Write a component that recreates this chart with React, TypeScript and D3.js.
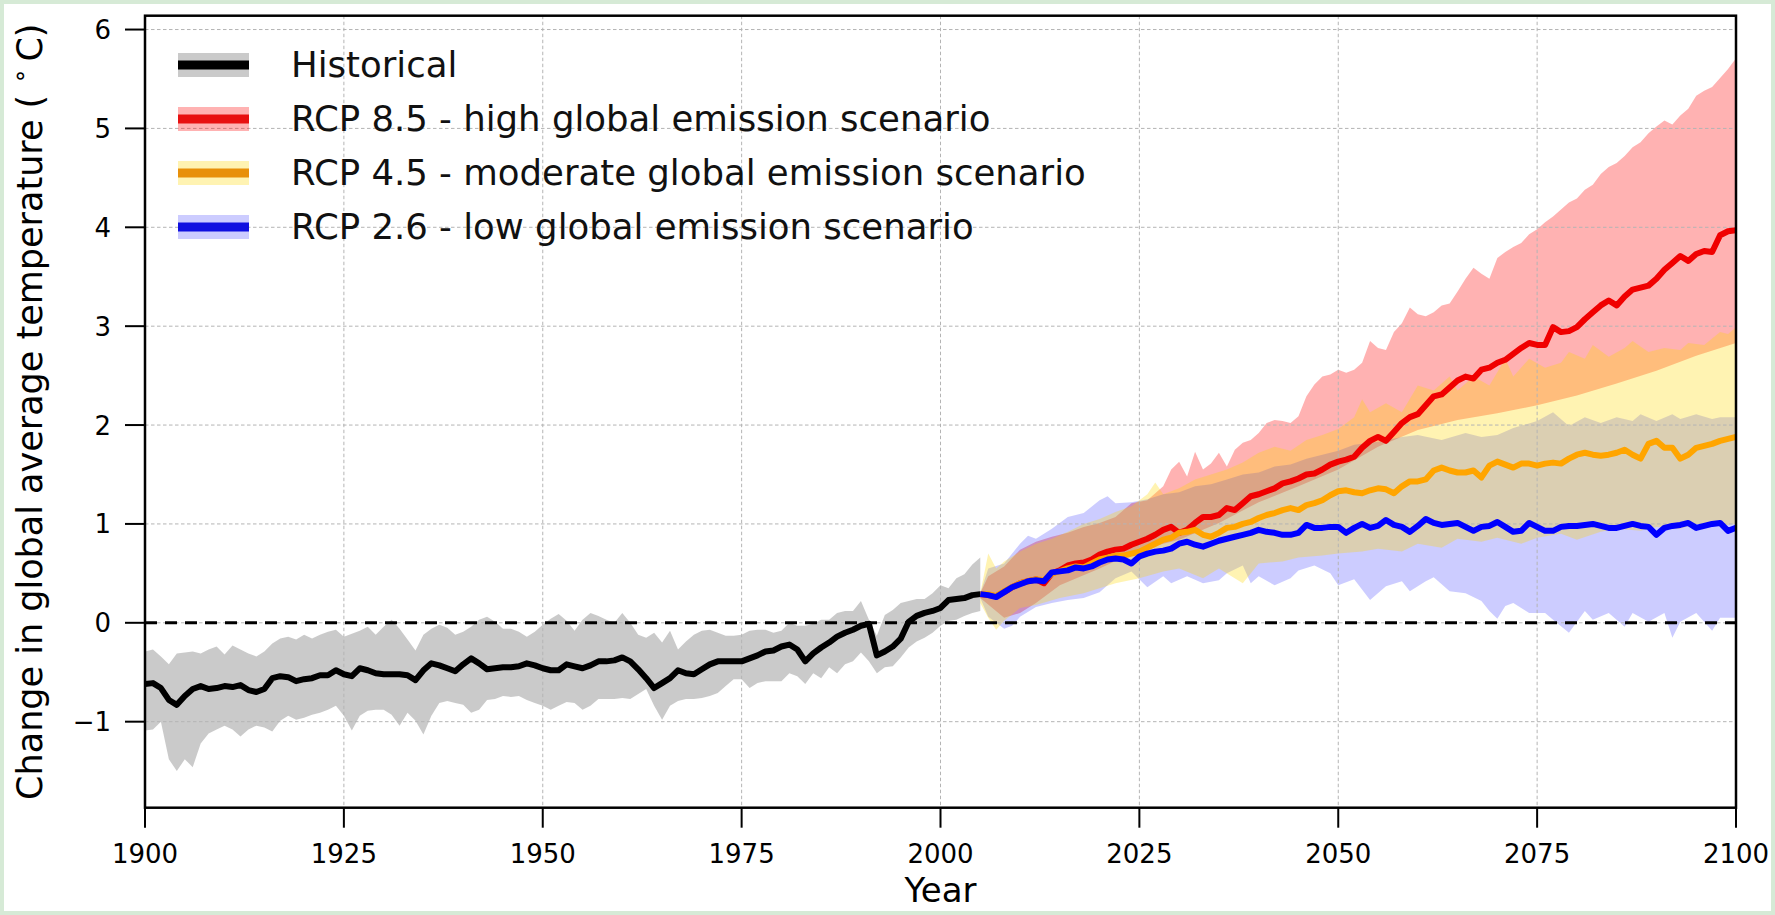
import React from 'react';
import * as d3 from 'd3';

const W = 1775;
const H = 915;

// historical ensemble, one value per year from 1900
const histStart = 1900;
const histMean = [
  -0.62, -0.61, -0.66, -0.78, -0.83, -0.74, -0.67, -0.64, -0.67, -0.66,
  -0.64, -0.65, -0.63, -0.68, -0.70, -0.67, -0.56, -0.54, -0.55, -0.59,
  -0.57, -0.56, -0.53, -0.53, -0.48, -0.52, -0.54, -0.46, -0.48, -0.51,
  -0.52, -0.52, -0.52, -0.53, -0.58, -0.48, -0.41, -0.43, -0.46, -0.49,
  -0.42, -0.36, -0.41, -0.47, -0.46, -0.45, -0.45, -0.44, -0.41, -0.43,
  -0.46, -0.48, -0.48, -0.42, -0.44, -0.46, -0.43, -0.39, -0.39, -0.38,
  -0.35, -0.39, -0.47, -0.56, -0.66, -0.61, -0.56, -0.48, -0.51, -0.52,
  -0.47, -0.42, -0.39, -0.39, -0.39, -0.39, -0.36, -0.33, -0.29, -0.28,
  -0.24, -0.22, -0.27, -0.39, -0.31, -0.25, -0.2, -0.14, -0.1, -0.07,
  -0.03, -0.01, -0.33, -0.29, -0.24, -0.16, 0.01, 0.07, 0.1, 0.12,
  0.15, 0.23, 0.24, 0.25, 0.28, 0.29,
];
const histHi = [
  -0.29, -0.27, -0.34, -0.42, -0.31, -0.3, -0.29, -0.31, -0.27, -0.24,
  -0.32, -0.23, -0.27, -0.31, -0.34, -0.29, -0.21, -0.16, -0.14, -0.17,
  -0.12, -0.16, -0.12, -0.09, -0.07, -0.14, -0.11, -0.08, -0.04, -0.12,
  -0.04, 0.03, -0.06, -0.17, -0.28, -0.12, -0.06, -0.02, -0.05, -0.12,
  -0.09, -0.04, 0.03, 0.06, 0.01, -0.06, -0.06, -0.09, -0.14, -0.09,
  -0.02, 0.04, 0.09, 0.02, -0.08, 0.03, 0.1, 0.07, 0.03, 0.0,
  0.1, 0.0, -0.12, -0.15, -0.1, -0.2, -0.08, -0.27, -0.19, -0.12,
  -0.08, -0.07, -0.1, -0.13, -0.13, -0.12, -0.08, -0.07, -0.07, -0.1,
  -0.08, 0.0, -0.03, -0.03, -0.01, 0.03, 0.03, 0.1, 0.12, 0.12,
  0.22, 0.03, -0.13, 0.08, 0.13, 0.2, 0.22, 0.24, 0.24, 0.3,
  0.38, 0.35, 0.45, 0.49, 0.59, 0.66,
];
const histLo = [
  -1.09, -1.08, -1.0, -1.38, -1.5, -1.38, -1.46, -1.22, -1.12, -1.08,
  -1.04, -1.08, -1.15, -1.08, -1.04, -1.06, -1.1, -0.99, -0.94, -0.98,
  -0.96, -0.93, -0.91, -0.88, -0.84, -0.94, -1.09, -0.94, -0.89, -0.88,
  -0.88, -0.93, -1.04, -0.91, -0.99, -1.13, -0.94, -0.81, -0.79, -0.81,
  -0.83, -0.91, -0.88, -0.78, -0.77, -0.74, -0.75, -0.74, -0.78, -0.81,
  -0.84, -0.88, -0.84, -0.8, -0.81, -0.88, -0.84, -0.77, -0.77, -0.77,
  -0.76, -0.77, -0.72, -0.67, -0.84, -0.98, -0.84, -0.79, -0.77, -0.77,
  -0.76, -0.74, -0.71, -0.64, -0.57, -0.57, -0.66, -0.61, -0.59, -0.59,
  -0.59, -0.51, -0.54, -0.62, -0.51, -0.56, -0.45, -0.51, -0.42, -0.39,
  -0.3, -0.39, -0.51, -0.45, -0.44, -0.35, -0.25, -0.19, -0.15, -0.1,
  -0.03, 0.02, 0.03, 0.07, 0.1, 0.12,
];

// scenario means, one value per year from 2005
const projStart = 2005;
const rcp85Mean = [
  0.29, 0.28, 0.27, 0.31, 0.36, 0.4, 0.42, 0.44, 0.4, 0.5,
  0.53, 0.58, 0.6, 0.61, 0.64, 0.69, 0.72, 0.74, 0.75, 0.79,
  0.82, 0.85, 0.89, 0.94, 0.97, 0.91, 0.94, 1.01, 1.07, 1.07,
  1.09, 1.16, 1.14, 1.21, 1.28, 1.3, 1.33, 1.36, 1.41, 1.43,
  1.46, 1.5, 1.51, 1.55, 1.6, 1.63, 1.65, 1.68, 1.77, 1.84,
  1.88, 1.84, 1.93, 2.02, 2.08, 2.11, 2.2, 2.29, 2.31, 2.38,
  2.45, 2.49, 2.47, 2.56, 2.58, 2.63, 2.66, 2.72, 2.78, 2.83,
  2.81, 2.81, 2.99, 2.94, 2.95, 2.99, 3.07, 3.14, 3.21, 3.26,
  3.21, 3.3, 3.37, 3.39, 3.41, 3.48, 3.57, 3.64, 3.71, 3.66,
  3.73, 3.76, 3.75, 3.92, 3.96, 3.97,
];
const rcp45Mean = [
  0.29, 0.29, 0.27, 0.32, 0.36, 0.4, 0.42, 0.44, 0.43, 0.5,
  0.52, 0.55, 0.57, 0.56, 0.6, 0.64, 0.66, 0.68, 0.68, 0.7,
  0.72, 0.76, 0.8, 0.84, 0.86, 0.91, 0.92, 0.94, 0.89, 0.87,
  0.91, 0.96, 0.97, 1.0, 1.02, 1.06, 1.09, 1.11, 1.14, 1.16,
  1.14, 1.19, 1.21, 1.24, 1.29, 1.33, 1.34, 1.32, 1.31, 1.34,
  1.36, 1.35, 1.31, 1.38, 1.43, 1.43, 1.45, 1.54, 1.57, 1.54,
  1.52, 1.52, 1.54, 1.47, 1.59, 1.63, 1.6, 1.57, 1.61, 1.61,
  1.59, 1.61, 1.62, 1.61, 1.66, 1.7, 1.72, 1.7, 1.69, 1.7,
  1.72, 1.75, 1.7, 1.66, 1.81, 1.84, 1.77, 1.77, 1.66, 1.7,
  1.77, 1.79, 1.81, 1.84, 1.86, 1.88,
];
const rcp26Mean = [
  0.29, 0.28, 0.26, 0.31, 0.36, 0.39, 0.42, 0.43, 0.42, 0.51,
  0.52, 0.53, 0.56, 0.55, 0.57, 0.61, 0.64, 0.65, 0.64, 0.6,
  0.67, 0.7, 0.72, 0.73, 0.75, 0.8, 0.82, 0.79, 0.77, 0.8,
  0.83, 0.85, 0.87, 0.89, 0.91, 0.94, 0.92, 0.91, 0.89, 0.89,
  0.91, 0.99, 0.96, 0.96, 0.97, 0.97, 0.91, 0.96, 1.0, 0.96,
  0.98, 1.04, 0.99, 0.97, 0.92, 0.98, 1.05, 1.01, 0.99, 1.0,
  1.01, 0.97, 0.93, 0.97, 0.98, 1.02, 0.97, 0.92, 0.93, 1.01,
  0.97, 0.93, 0.93, 0.97, 0.98, 0.98, 0.99, 1.0, 0.98, 0.96,
  0.96, 0.98, 1.0, 0.98, 0.97, 0.89, 0.96, 0.98, 0.99, 1.01,
  0.96, 0.98, 1.0, 1.01, 0.93, 0.96,
];

// scenario ranges as [year, value] knots
const rcp85Hi: [number, number][] = [
  [2005, 0.3], [2006, 0.47], [2008, 0.57], [2010, 0.74], [2012, 0.82], [2014, 0.87],
  [2016, 0.91], [2018, 0.97], [2020, 1.01], [2022, 1.07], [2024, 1.21], [2026, 1.24],
  [2028, 1.38], [2029, 1.55], [2030, 1.63], [2031, 1.48], [2032, 1.73], [2033, 1.55],
  [2034, 1.61], [2035, 1.72], [2036, 1.58], [2037, 1.75], [2038, 1.82], [2039, 1.85],
  [2040, 1.92], [2041, 2.02], [2042, 2.05], [2043, 2.04], [2044, 2.02], [2045, 2.09],
  [2046, 2.29], [2047, 2.41], [2048, 2.49], [2049, 2.51], [2050, 2.56], [2051, 2.53],
  [2052, 2.56], [2053, 2.63], [2054, 2.85], [2055, 2.78], [2056, 2.76], [2057, 2.94],
  [2058, 3.03], [2059, 3.19], [2060, 3.12], [2061, 3.1], [2062, 3.14], [2063, 3.21],
  [2064, 3.23], [2065, 3.35], [2066, 3.48], [2067, 3.59], [2068, 3.53], [2069, 3.48],
  [2070, 3.69], [2071, 3.75], [2072, 3.8], [2073, 3.84], [2074, 3.93], [2075, 3.98],
  [2076, 4.05], [2077, 4.11], [2078, 4.18], [2079, 4.25], [2080, 4.29], [2081, 4.38],
  [2082, 4.43], [2083, 4.54], [2084, 4.61], [2085, 4.65], [2086, 4.72], [2087, 4.81],
  [2088, 4.86], [2089, 4.95], [2090, 5.02], [2091, 5.08], [2092, 5.04], [2093, 5.13],
  [2094, 5.2], [2095, 5.33], [2096, 5.38], [2097, 5.42], [2098, 5.51], [2099, 5.6],
  [2100, 5.71],
];
const rcp85Lo: [number, number][] = [
  [2005, 0.25], [2008, 0.05], [2010, 0.1], [2012, 0.2], [2015, 0.38], [2020, 0.55],
  [2025, 0.74], [2030, 0.84], [2035, 1.01], [2040, 1.22], [2045, 1.38], [2050, 1.55],
  [2055, 1.78], [2060, 1.95], [2065, 2.05], [2070, 2.12], [2075, 2.2], [2080, 2.3],
  [2085, 2.42], [2090, 2.55], [2095, 2.7], [2100, 2.83],
];
const rcp45Hi: [number, number][] = [
  [2005, 0.3], [2006, 0.7], [2007, 0.55], [2008, 0.62], [2010, 0.72], [2012, 0.8],
  [2014, 0.85], [2016, 0.92], [2018, 1.0], [2020, 1.05], [2022, 1.12], [2024, 1.18],
  [2026, 1.3], [2027, 1.42], [2028, 1.3], [2030, 1.36], [2032, 1.45], [2034, 1.5],
  [2036, 1.55], [2038, 1.62], [2040, 1.72], [2042, 1.78], [2044, 1.74], [2046, 1.85],
  [2048, 1.9], [2050, 1.96], [2052, 2.08], [2053, 2.26], [2054, 2.13], [2056, 2.22],
  [2058, 2.13], [2060, 2.4], [2062, 2.35], [2064, 2.49], [2065, 2.35], [2067, 2.49],
  [2069, 2.4], [2071, 2.67], [2072, 2.49], [2074, 2.67], [2076, 2.58], [2078, 2.63],
  [2079, 2.74], [2081, 2.67], [2082, 2.81], [2084, 2.69], [2086, 2.78], [2087, 2.85],
  [2089, 2.74], [2091, 2.78], [2093, 2.76], [2094, 2.83], [2096, 2.81], [2098, 2.94],
  [2099, 2.92], [2100, 2.99],
];
const rcp45Lo: [number, number][] = [
  [2005, 0.2], [2006, 0.05], [2007, -0.07], [2008, 0.02], [2010, 0.15], [2012, 0.18],
  [2015, 0.25], [2018, 0.3], [2020, 0.35], [2022, 0.4], [2025, 0.45], [2028, 0.52],
  [2030, 0.55], [2033, 0.45], [2035, 0.55], [2038, 0.4], [2040, 0.6], [2043, 0.62],
  [2045, 0.66], [2048, 0.68], [2050, 0.7], [2053, 0.72], [2055, 0.75], [2058, 0.72],
  [2060, 0.8], [2063, 0.76], [2065, 0.85], [2068, 0.82], [2070, 0.86], [2073, 0.8],
  [2075, 0.86], [2078, 0.9], [2080, 0.84], [2083, 0.92], [2085, 0.95], [2088, 0.93],
  [2090, 0.97], [2093, 0.95], [2095, 1.0], [2098, 0.98], [2100, 1.0],
];
const rcp26Hi: [number, number][] = [
  [2005, 0.3], [2006, 0.55], [2008, 0.6], [2010, 0.8], [2011, 0.88], [2012, 0.85],
  [2014, 0.95], [2016, 1.07], [2018, 1.11], [2020, 1.24], [2021, 1.28], [2022, 1.21],
  [2024, 1.22], [2026, 1.25], [2028, 1.3], [2030, 1.32], [2032, 1.38], [2034, 1.4],
  [2036, 1.45], [2038, 1.5], [2040, 1.52], [2042, 1.58], [2044, 1.6], [2046, 1.66],
  [2048, 1.7], [2050, 1.74], [2052, 1.8], [2055, 1.83], [2058, 1.88], [2060, 1.9],
  [2063, 1.85], [2066, 1.92], [2068, 1.88], [2070, 1.9], [2072, 1.97], [2075, 2.04],
  [2077, 2.13], [2079, 1.99], [2081, 2.08], [2083, 2.02], [2085, 2.08], [2087, 2.04],
  [2088, 2.11], [2090, 2.04], [2092, 2.11], [2093, 2.06], [2095, 2.11], [2097, 2.06],
  [2098, 2.08], [2100, 2.08],
];
const rcp26Lo: [number, number][] = [
  [2005, 0.25], [2006, 0.06], [2007, 0.0], [2008, -0.06], [2009, -0.03], [2010, 0.06],
  [2012, 0.16], [2014, 0.2], [2016, 0.23], [2018, 0.25], [2020, 0.31], [2022, 0.45],
  [2024, 0.52], [2026, 0.36], [2028, 0.47], [2029, 0.4], [2031, 0.47], [2033, 0.4],
  [2035, 0.43], [2036, 0.5], [2038, 0.58], [2039, 0.4], [2040, 0.47], [2042, 0.38],
  [2044, 0.45], [2045, 0.53], [2047, 0.58], [2049, 0.5], [2050, 0.38], [2052, 0.44],
  [2054, 0.23], [2056, 0.37], [2058, 0.42], [2059, 0.32], [2061, 0.42], [2062, 0.46],
  [2064, 0.32], [2066, 0.3], [2068, 0.22], [2069, 0.12], [2070, 0.04], [2071, 0.17],
  [2072, 0.2], [2074, 0.1], [2076, 0.1], [2077, 0.03], [2079, -0.1], [2081, 0.12],
  [2082, 0.03], [2084, 0.1], [2086, -0.04], [2087, 0.1], [2089, 0.01], [2091, 0.1],
  [2092, -0.15], [2093, 0.01], [2095, 0.1], [2097, -0.08], [2098, 0.05], [2100, 0.05],
];

const xTicks = [1900, 1925, 1950, 1975, 2000, 2025, 2050, 2075, 2100];
const yTicks = [-1, 0, 1, 2, 3, 4, 5, 6];
const legendLabels = [
  'Historical',
  'RCP 8.5 - high global emission scenario',
  'RCP 4.5 - moderate global emission scenario',
  'RCP 2.6 - low global emission scenario',
];

const FONT = 'DejaVu Sans, sans-serif';
const left = 145;
const right = 1736;
const top = 15.7;
const bottom = 807.7;

const toPairs = (start: number, vals: number[]): [number, number][] =>
  vals.map((v, i) => [start + i, v]);

export default function App() {
  const x = d3.scaleLinear().domain([1900, 2100]).range([left, right]);
  const y = d3.scaleLinear().domain([-1.87, 6.14]).range([bottom, top]);

  const line = d3
    .line<[number, number]>()
    .x((d) => x(d[0]))
    .y((d) => y(d[1]));

  const histArea = d3
    .area<number>()
    .x((_, i) => x(histStart + i))
    .y0((_, i) => y(histLo[i]))
    .y1((_, i) => y(histHi[i]));

  // band between two knot sets: upper edge forward, lower edge back
  const band = (hi: [number, number][], lo: [number, number][]) =>
    (line([...hi, ...lo.slice().reverse()]) || '') + 'Z';

  // red first, blue, then yellow on top gives the tan overlaps
  const bands = [
    { d: band(rcp85Hi, rcp85Lo), fill: '#ff0000', op: 0.3 },
    { d: band(rcp26Hi, rcp26Lo), fill: '#0000ff', op: 0.2 },
    { d: band(rcp45Hi, rcp45Lo), fill: '#ffd700', op: 0.3 },
  ];

  const series = [
    { d: line(toPairs(histStart, histMean)), stroke: '#000000' },
    { d: line(toPairs(projStart, rcp85Mean)), stroke: '#f00000' },
    { d: line(toPairs(projStart, rcp45Mean)), stroke: '#ffa500' },
    { d: line(toPairs(projStart, rcp26Mean)), stroke: '#0000ff' },
  ];

  const legendItems = [
    { patch: '#808080', op: 0.42, stroke: '#000000' },
    { patch: '#ff0000', op: 0.3, stroke: '#e81010' },
    { patch: '#ffd700', op: 0.3, stroke: '#e8900a' },
    { patch: '#0000ff', op: 0.2, stroke: '#1010e0' },
  ];

  return (
    <svg
      width={W}
      height={H}
      style={{ position: 'absolute', left: 0, top: 0 }}
      fontFamily={FONT}
    >
      <rect width={W} height={H} fill="#d6ead6" />
      <rect x={4} y={4} width={W - 8} height={H - 8} fill="#ffffff" />
      <defs>
        <clipPath id="plot">
          <rect x={left} y={top} width={right - left} height={bottom - top} />
        </clipPath>
      </defs>

      <g clipPath="url(#plot)">
        <path d={histArea(histMean) || ''} fill="#808080" fillOpacity={0.42} />
        {bands.map((b, i) => (
          <path key={i} d={b.d} fill={b.fill} fillOpacity={b.op} />
        ))}

        {xTicks.slice(1, -1).map((t) => (
          <line
            key={t}
            x1={x(t)}
            x2={x(t)}
            y1={top}
            y2={bottom}
            stroke="#b4b4b4"
            strokeWidth={1}
            strokeDasharray="3.5,2.5"
          />
        ))}
        {yTicks.map((t) => (
          <line
            key={t}
            x1={left}
            x2={right}
            y1={y(t)}
            y2={y(t)}
            stroke="#b4b4b4"
            strokeWidth={1}
            strokeDasharray="3.5,2.5"
          />
        ))}

        <line
          x1={left}
          x2={right}
          y1={y(0)}
          y2={y(0)}
          stroke="#000"
          strokeWidth={3}
          strokeDasharray="12,8"
        />

        {series.map((s, i) => (
          <path
            key={i}
            d={s.d || ''}
            fill="none"
            stroke={s.stroke}
            strokeWidth={6}
            strokeLinejoin="round"
          />
        ))}
      </g>

      <rect
        x={left}
        y={top}
        width={right - left}
        height={bottom - top}
        fill="none"
        stroke="#000"
        strokeWidth={2.5}
      />

      {xTicks.map((t) => (
        <g key={t}>
          <line x1={x(t)} x2={x(t)} y1={bottom} y2={bottom + 20} stroke="#000" strokeWidth={2} />
          <text x={x(t)} y={863} fontSize={26} textAnchor="middle" fill="#000">
            {t}
          </text>
        </g>
      ))}
      {yTicks.map((t) => (
        <g key={t}>
          <line x1={left - 20} x2={left} y1={y(t)} y2={y(t)} stroke="#000" strokeWidth={2} />
          <text x={111} y={y(t) + 9.5} fontSize={26} textAnchor="end" fill="#000">
            {t < 0 ? '\u2212' + Math.abs(t) : t}
          </text>
        </g>
      ))}

      <text x={(left + right) / 2} y={902} fontSize={34} textAnchor="middle" fill="#000">
        Year
      </text>
      <text
        transform={`translate(42,${(top + bottom) / 2}) rotate(-90)`}
        fontSize={35}
        textAnchor="middle"
        fill="#000"
      >
        {'Change in global average temperature ( '}
        <tspan fontSize={24} dy={-14}>{'\u2218'}</tspan>
        <tspan dy={14}>{'\u2009C)'}</tspan>
      </text>

      {legendLabels.map((label, i) => {
        const cy = 65 + i * 54;
        const it = legendItems[i];
        return (
          <g key={label}>
            <rect x={178} y={cy - 12} width={71} height={24} fill={it.patch} fillOpacity={it.op} />
            <line x1={178} x2={249} y1={cy} y2={cy} stroke={it.stroke} strokeWidth={9} />
            <text x={291} y={cy + 12} fontSize={35.5} fill="#111">
              {label}
            </text>
          </g>
        );
      })}
    </svg>
  );
}
